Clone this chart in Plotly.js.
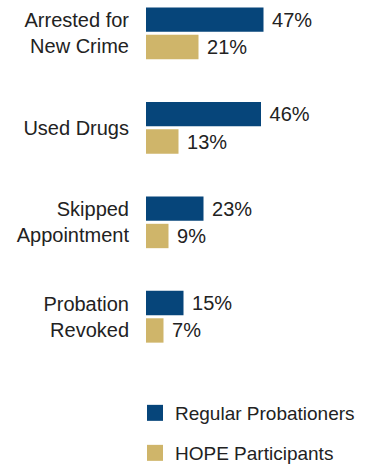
<!DOCTYPE html>
<html><head><meta charset="utf-8">
<script src="https://cdn.plot.ly/plotly-3.0.1.min.js"></script>
<style>html,body{margin:0;padding:0;background:#fff}#chart{width:374px;height:464px}</style>
</head><body><div id="chart"></div>
<script>
var categories = ['Arrested for<br>New Crime', 'Used Drugs', 'Skipped<br>Appointment', 'Probation<br>Revoked'];
var regular = [47, 46, 23, 15];
var hope = [21, 13, 9, 7];
var seriesNames = ['Regular Probationers', 'HOPE Participants'];
var colors = ['#06457a', '#cfb56a'];

var FONT = '"Liberation Sans", Arial, sans-serif';
var TXT = '#222222';

function barTrace(vals, i) {
  return {
    type: 'bar', orientation: 'h', y: categories, x: vals, name: seriesNames[i],
    marker: {color: colors[i]}, showlegend: false,
    texttemplate: '\u00a0%{x}%', textposition: 'outside', constraintext: 'none',
    cliponaxis: false, textfont: {family: FONT, size: 20, color: TXT},
    hoverinfo: 'skip'
  };
}
function legendTrace(i, leg) {
  return {
    type: 'scatter', mode: 'markers', x: [-10], y: [-10], xaxis: 'x2', yaxis: 'y2', name: seriesNames[i],
    marker: {symbol: 'square', size: 20, color: colors[i]}, legend: leg, showlegend: true, hoverinfo: 'skip'
  };
}

var data = [barTrace(regular, 0), barTrace(hope, 1), legendTrace(0, 'legend'), legendTrace(1, 'legend2')];

var layout = {
  width: 374, height: 464,
  margin: {l: 146, r: 28, t: 5, b: 100, autoexpand: false},
  paper_bgcolor: '#fff', plot_bgcolor: '#fff',
  barmode: 'group', bargap: 0.42, bargroupgap: 0.11,
  font: {family: FONT, size: 19, color: TXT},
  xaxis: {visible: false, range: [0, 80], fixedrange: true},
  yaxis: {type: 'category', autorange: false, range: [3.5, -0.3], showgrid: false, zeroline: false, showline: false,
          ticks: '', ticklabelstandoff: 16, tickfont: {family: FONT, size: 20, color: TXT}},
  xaxis2: {visible: false, range: [0, 1], overlaying: 'x'},
  yaxis2: {visible: false, range: [0, 1], overlaying: 'y'},
  legend: {xref: 'container', yref: 'container', x: 135/374, y: 1 - 413/464, xanchor: 'left', yanchor: 'middle',
           font: {family: FONT, size: 19, color: TXT}, bgcolor: 'rgba(0,0,0,0)'},
  legend2: {xref: 'container', yref: 'container', x: 135/374, y: 1 - 453/464, xanchor: 'left', yanchor: 'middle',
           font: {family: FONT, size: 19, color: TXT}, bgcolor: 'rgba(0,0,0,0)'},
  showlegend: true
};

Plotly.newPlot('chart', data, layout, {displayModeBar: false, staticPlot: true});
</script>
</body></html>
